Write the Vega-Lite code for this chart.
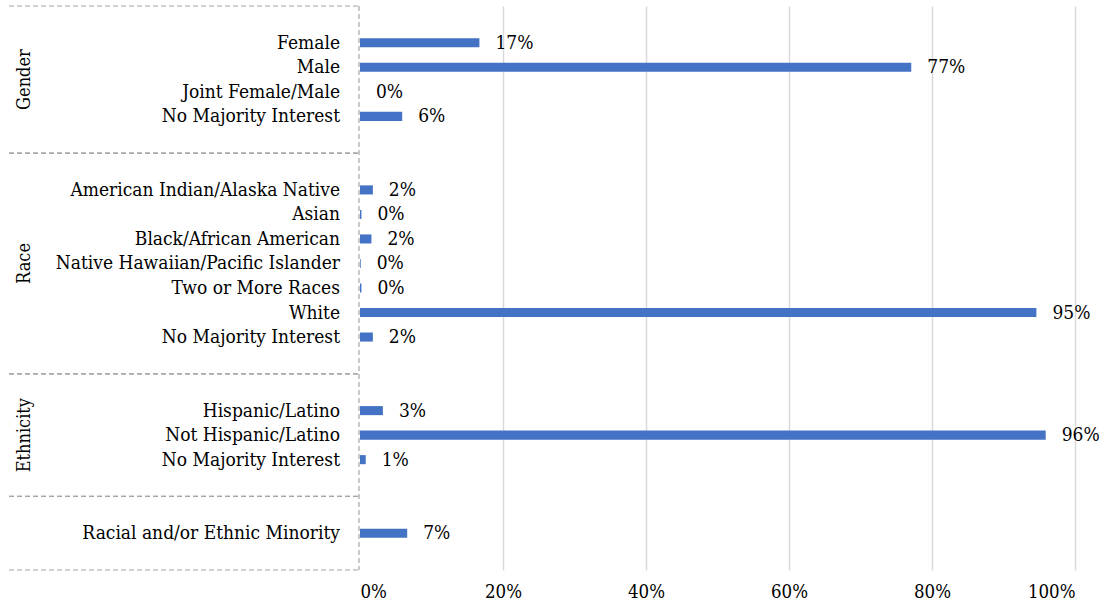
{
  "$schema": "https://vega.github.io/schema/vega-lite/v6.json",
  "padding": {"left": 8, "top": 5, "right": 0, "bottom": 0},
  "background": "white",
  "config": {
    "view": {"stroke": null},
    "font": "DejaVu Serif Condensed",
    "concat": {"spacing": 0}
  },
  "datasets": {
    "cats": [
      {"row": 1, "label": "Female", "group": "Gender", "value": 0.167},
      {"row": 2, "label": "Male", "group": "Gender", "value": 0.771},
      {"row": 3, "label": "Joint Female/Male", "group": "Gender", "value": 0},
      {"row": 4, "label": "No Majority Interest", "group": "Gender", "value": 0.059},
      {"row": 7, "label": "American Indian/Alaska Native", "group": "Race", "value": 0.018},
      {"row": 8, "label": "Asian", "group": "Race", "value": 0.002},
      {"row": 9, "label": "Black/African American", "group": "Race", "value": 0.016},
      {"row": 10, "label": "Native Hawaiian/Pacific Islander", "group": "Race", "value": 0.001},
      {"row": 11, "label": "Two or More Races", "group": "Race", "value": 0.002},
      {"row": 12, "label": "White", "group": "Race", "value": 0.946},
      {"row": 13, "label": "No Majority Interest", "group": "Race", "value": 0.018},
      {"row": 16, "label": "Hispanic/Latino", "group": "Ethnicity", "value": 0.032},
      {"row": 17, "label": "Not Hispanic/Latino", "group": "Ethnicity", "value": 0.959},
      {"row": 18, "label": "No Majority Interest", "group": "Ethnicity", "value": 0.008},
      {"row": 21, "label": "Racial and/or Ethnic Minority", "group": "", "value": 0.066}
    ],
    "bounds": [
      {"group": "Gender", "pos": 0},
      {"group": "Gender", "pos": 6},
      {"group": "Race", "pos": 6},
      {"group": "Race", "pos": 15},
      {"group": "Ethnicity", "pos": 15},
      {"group": "Ethnicity", "pos": 20},
      {"group": "", "pos": 20},
      {"group": "", "pos": 23}
    ]
  },
  "hconcat": [
    {
      "width": 350,
      "height": 564,
      "layer": [
        {
          "data": {"name": "bounds"},
          "mark": {"type": "rule", "color": "#A6A6A6", "strokeDash": [5, 3], "strokeWidth": 1.2},
          "encoding": {
            "y": {"field": "pos", "type": "quantitative", "scale": {"domain": [0, 23], "reverse": true, "nice": false, "zero": false}, "axis": null},
            "x": {"datum": 0, "type": "quantitative", "scale": {"domain": [0, 1], "nice": false}, "axis": null},
            "x2": {"datum": 1}
          }
        },
        {
          "data": {"values": [{}]},
          "mark": {"type": "rule", "color": "#A6A6A6", "strokeDash": [5, 3], "strokeWidth": 1.2},
          "encoding": {
            "x": {"datum": 1, "type": "quantitative", "scale": {"domain": [0, 1], "nice": false}, "axis": null},
            "y": {"datum": 0, "type": "quantitative", "scale": {"domain": [0, 23], "reverse": true, "nice": false, "zero": false}, "axis": null},
            "y2": {"datum": 23}
          }
        },
        {
          "data": {"name": "bounds"},
          "mark": {"type": "text", "angle": 270, "align": "center", "baseline": "middle", "fontSize": 18, "color": "#000000", "font": "DejaVu Serif Condensed"},
          "encoding": {
            "y": {"aggregate": "mean", "field": "pos", "type": "quantitative", "scale": {"domain": [0, 23], "reverse": true, "nice": false, "zero": false}, "axis": null},
            "x": {"datum": 0.045, "type": "quantitative", "scale": {"domain": [0, 1], "nice": false}, "axis": null},
            "text": {"field": "group"}
          }
        },
        {
          "data": {"name": "cats"},
          "mark": {"type": "text", "align": "right", "baseline": "middle", "dx": -19, "fontSize": 19, "color": "#000000", "font": "DejaVu Serif Condensed"},
          "encoding": {
            "y": {"field": "row", "type": "ordinal", "scale": {"domain": [0,1,2,3,4,5,6,7,8,9,10,11,12,13,14,15,16,17,18,19,20,21,22], "paddingInner": 0, "paddingOuter": 0}, "axis": null},
            "x": {"datum": 1, "type": "quantitative", "scale": {"domain": [0, 1], "nice": false}, "axis": null},
            "text": {"field": "label"}
          }
        }
      ],
      "resolve": {"scale": {"y": "independent"}}
    },
    {
      "width": 715,
      "height": 564,
      "data": {"name": "cats"},
      "encoding": {
        "y": {"field": "row", "type": "ordinal", "scale": {"domain": [0,1,2,3,4,5,6,7,8,9,10,11,12,13,14,15,16,17,18,19,20,21,22], "paddingInner": 0.63, "paddingOuter": 0.315}, "axis": null},
        "x": {
          "field": "value", "type": "quantitative",
          "scale": {"domain": [0, 1], "nice": false},
          "axis": {
            "values": [0, 0.2, 0.4, 0.6, 0.8, 1],
            "format": ".0%",
            "title": null,
            "domain": false,
            "ticks": false,
            "labelPadding": 12,
            "labelFontSize": 18.5,
            "labelColor": "#000000",
            "labelFont": "DejaVu Serif Condensed",
            "grid": true,
            "gridColor": "#D9D9D9",
            "gridWidth": 1.5,
            "gridOpacity": {"condition": {"test": "datum.value === 0", "value": 0}, "value": 1}
          }
        }
      },
      "layer": [
        {"mark": {"type": "bar", "color": "#4472C4"}},
        {
          "mark": {"type": "text", "align": "left", "baseline": "middle", "dx": 16, "fontSize": 19, "color": "#000000", "font": "DejaVu Serif Condensed"},
          "encoding": {"text": {"field": "value", "type": "quantitative", "format": ".0%"}}
        }
      ]
    }
  ]
}
